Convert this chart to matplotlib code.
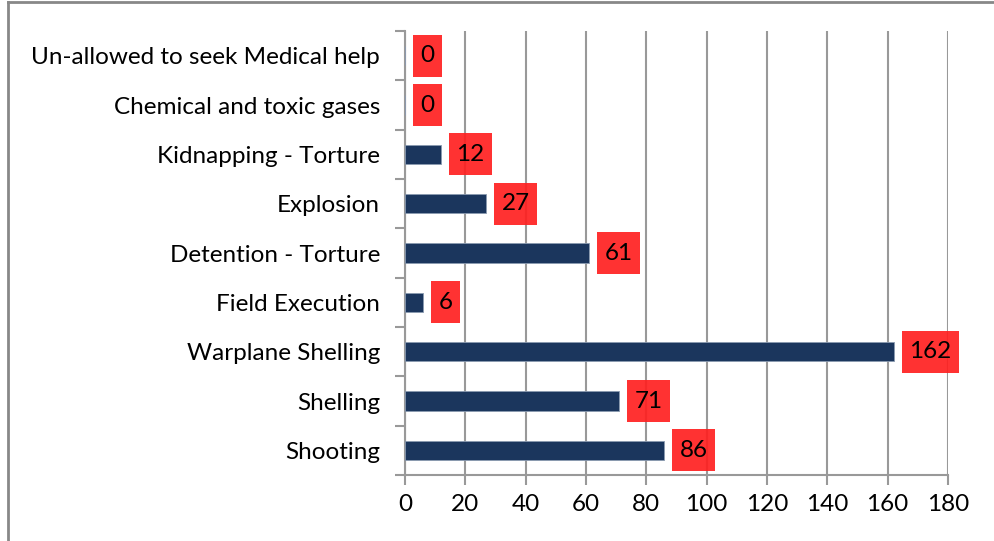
import matplotlib

matplotlib.use("Agg")
import matplotlib.pyplot as plt
from matplotlib.lines import Line2D

# categories listed bottom to top
categories = [
    "Shooting",
    "Shelling",
    "Warplane Shelling",
    "Field Execution",
    "Detention - Torture",
    "Explosion",
    "Kidnapping - Torture",
    "Chemical and toxic gases",
    "Un-allowed to seek Medical help",
]
values = [86, 71, 162, 6, 61, 27, 12, 0, 0]
x_ticks = [0, 20, 40, 60, 80, 100, 120, 140, 160, 180]

plt.rcParams["font.family"] = ["Lato", "DejaVu Sans"]

fig = plt.figure(figsize=(9.94, 5.41), dpi=100)
ax = fig.add_axes([405 / 994, 66 / 541, 543 / 994, 444 / 541])

y = list(range(len(categories)))
ax.barh(y, values, height=0.39, color="#1b365d", edgecolor="#8a9ab0",
        linewidth=0.6, zorder=3)

for yi, v in zip(y, values):
    # taller than wide padding, like the source data labels
    ax.annotate(str(v), xy=(v, yi), xytext=(11, 0), textcoords="offset points",
                ha="left", va="center", fontsize=17.5, color="black", zorder=5,
                bbox=dict(boxstyle="square,pad=0.3", fc="#ff2020", ec="none",
                          alpha=0.92, mutation_aspect=1.45))

ax.set_xlim(0, 180)
ax.set_ylim(-0.5, len(categories) - 0.5)
ax.set_xticks(x_ticks)
ax.set_yticks([i - 0.5 for i in range(len(categories) + 1)])
ax.set_yticklabels([])
ax.set_yticks(y, minor=True)
ax.set_yticklabels(categories, minor=True, fontsize=17.5)
ax.tick_params(axis="y", which="minor", length=0, pad=18)
ax.tick_params(axis="y", which="major", length=7, width=1.5, color="#999999")
ax.tick_params(axis="x", length=7, width=1.5, color="#999999", labelsize=17.5, pad=7)

ax.grid(axis="x", color="#999999", linewidth=1.5, zorder=0)
for side in ["top", "right"]:
    ax.spines[side].set_visible(False)
for side in ["left", "bottom"]:
    ax.spines[side].set_color("#999999")
    ax.spines[side].set_linewidth(1.5)

# outer chart border (left and top edges visible)
fig.add_artist(Line2D([8 / 994, 8 / 994], [0, 1 - 2 / 541], color="#888888", lw=2))
fig.add_artist(Line2D([8 / 994, 1], [1 - 2 / 541, 1 - 2 / 541], color="#888888", lw=2))

fig.savefig("out.png", dpi=100)
